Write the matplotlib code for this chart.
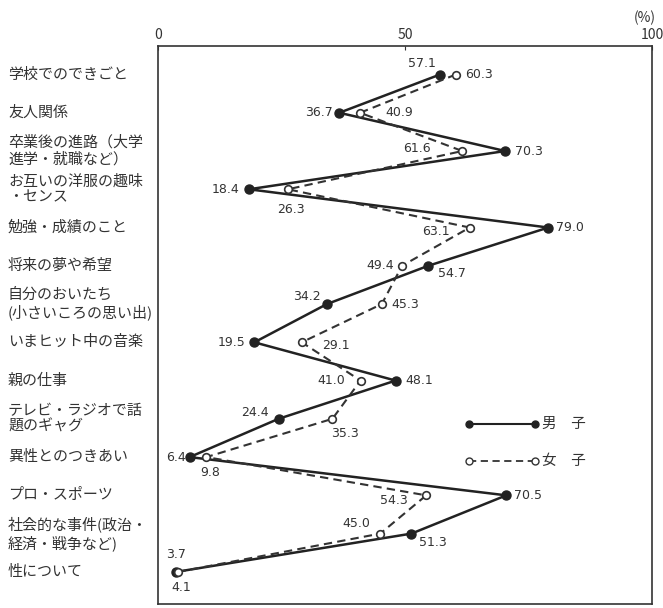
import matplotlib
matplotlib.use("Agg")
import matplotlib.pyplot as plt
import matplotlib.transforms as mtransforms

plt.rcParams['font.family'] = ['Noto Sans CJK JP', 'DejaVu Sans']

categories = [
    "学校でのできごと",
    "友人関係",
    "卒業後の進路（大学\n進学・就職など）",
    "お互いの洋服の趣味\n・センス",
    "勉強・成績のこと",
    "将来の夢や希望",
    "自分のおいたち\n(小さいころの思い出)",
    "いまヒット中の音楽",
    "親の仕事",
    "テレビ・ラジオで話\n題のギャグ",
    "異性とのつきあい",
    "プロ・スポーツ",
    "社会的な事件(政治・\n経済・戦争など)",
    "性について",
]
male = [57.1, 36.7, 70.3, 18.4, 79.0, 54.7, 34.2, 19.5, 48.1, 24.4, 6.4, 70.5, 51.3, 3.7]
female = [60.3, 40.9, 61.6, 26.3, 63.1, 49.4, 45.3, 29.1, 41.0, 35.3, 9.8, 54.3, 45.0, 4.1]
xticks = [0, 50, 100]
legend_labels = ["男　子", "女　子"]

# label offsets in pixels (dx, dy), screen-up positive
male_off = [(-18, 11), (-6, 0), (10, 0), (-9, 0), (8, 0), (10, -8), (-6, 8), (-9, 0), (10, 0),
            (-10, 6), (-4, 0), (8, 0), (8, -9), (0, 17)]
male_ha = ['center', 'right', 'left', 'right', 'left', 'left', 'right', 'right', 'left',
           'right', 'right', 'left', 'left', 'center']
female_off = [(9, 0), (25, 0), (-32, 3), (3, -20), (-20, -4), (-8, 0), (10, 0), (20, -3), (-15, 0),
              (13, -15), (4, -15), (-18, -5), (-24, 10), (3, -16)]
female_ha = ['left', 'left', 'right', 'center', 'right', 'right', 'left', 'left', 'right',
             'center', 'center', 'right', 'center', 'center']

fig = plt.figure(figsize=(6.63, 6.08), dpi=100)
ax = fig.add_axes([158 / 663, 1 - 604 / 608, (652 - 158) / 663, (604 - 46) / 608])

y = list(range(len(categories)))
ax.plot(male, y, '-', color='#222222', lw=1.8, marker='o', ms=6.5,
        mfc='#222222', mec='#222222', zorder=3)
ax.plot(female, y, '--', color='#333333', lw=1.5, dashes=(4, 2.5), marker='o', ms=5.5,
        mfc='white', mec='#333333', mew=1.2, zorder=4)

for i in range(len(categories)):
    ax.annotate(f"{male[i]:.1f}", (male[i], i), xytext=male_off[i], textcoords='offset pixels',
                ha=male_ha[i], va='center', fontsize=9, color='#333333', family='DejaVu Sans')
    ax.annotate(f"{female[i]:.1f}", (female[i], i), xytext=female_off[i], textcoords='offset pixels',
                ha=female_ha[i], va='center', fontsize=9, color='#333333', family='DejaVu Sans')

ax.set_xlim(0, 100)
ax.set_ylim(len(categories) - 1 + 0.84, -0.745)
ax.xaxis.tick_top()
ax.set_xticks(xticks)
ax.set_xticklabels([str(v) for v in xticks], fontsize=10, color='#333333')
ax.tick_params(axis='x', direction='in', length=3, pad=3, color='#333333')
ax.set_yticks([])
for s in ax.spines.values():
    s.set_color('#333333')
    s.set_linewidth(1.2)

trans = mtransforms.blended_transform_factory(fig.transFigure, ax.transData)
for i, c in enumerate(categories):
    ax.text(8 / 663, i, c, transform=trans, ha='left', va='center', fontsize=10.8,
            color='#333333', linespacing=1.2, clip_on=False)

fig.text(645 / 663, 1 - 18 / 608, "(%)", ha='center', va='center', fontsize=10, color='#333333')

# legend
ly1 = (604 - 424) / 558
ly2 = (604 - 461) / 558
ax.plot([0.630, 0.763], [ly1, ly1], transform=ax.transAxes, color='#222222', lw=1.5,
        marker='o', ms=5, mfc='#222222', mec='#222222', clip_on=False)
ax.plot([0.630, 0.763], [ly2, ly2], transform=ax.transAxes, color='#333333', lw=1.3,
        ls='--', dashes=(4, 2.5), marker='o', ms=5, mfc='white', mec='#333333', clip_on=False)
ax.text(0.778, ly1, legend_labels[0], transform=ax.transAxes, ha='left', va='center',
        fontsize=10.5, color='#333333')
ax.text(0.778, ly2, legend_labels[1], transform=ax.transAxes, ha='left', va='center',
        fontsize=10.5, color='#333333')

fig.savefig("out.png", dpi=100)
